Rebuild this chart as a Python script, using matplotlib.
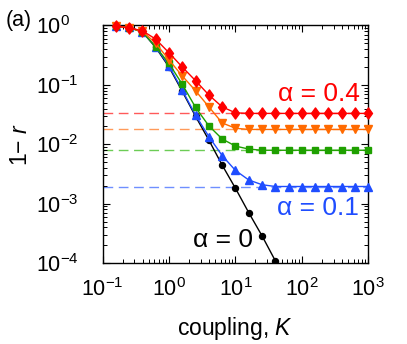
import numpy as np
import matplotlib
matplotlib.use("Agg")
import matplotlib.pyplot as plt
from matplotlib.path import Path

plt.rcParams['font.family'] = ['Liberation Sans', 'DejaVu Sans']
plt.rcParams['mathtext.fontset'] = 'custom'
plt.rcParams['mathtext.rm'] = 'Liberation Sans'
plt.rcParams['mathtext.it'] = 'Liberation Sans:italic'
plt.rcParams['mathtext.sf'] = 'Liberation Sans'

# coupling values (log10 K)
logK = [-0.8, -0.6, -0.4, -0.2, 0.0, 0.2, 0.4, 0.6, 0.8, 1.0, 1.2, 1.4, 1.6,
        1.8, 2.0, 2.2, 2.4, 2.6, 2.8, 3.0]

# log10(1 - r) for each alpha
log_a04 = [-0.01, -0.04, -0.09, -0.23, -0.46, -0.70, -0.93, -1.17, -1.37, -1.47,
           -1.48, -1.48, -1.48, -1.48, -1.48, -1.48, -1.48, -1.48, -1.48, -1.48]
log_a03 = [-0.01, -0.04, -0.10, -0.30, -0.58, -0.85, -1.10, -1.37, -1.64, -1.73,
           -1.75, -1.75, -1.75, -1.75, -1.75, -1.75, -1.75, -1.75, -1.75, -1.75]
log_a02 = [-0.01, -0.04, -0.11, -0.36, -0.64, -0.99, -1.38, -1.69, -1.91, -2.03,
           -2.08, -2.10, -2.10, -2.10, -2.10, -2.10, -2.10, -2.10, -2.10, -2.10]
log_a01 = [-0.01, -0.03, -0.11, -0.36, -0.68, -1.09, -1.51, -1.87, -2.19, -2.44,
           -2.60, -2.68, -2.71, -2.71, -2.71, -2.71, -2.71, -2.71, -2.71, -2.71]
logK_a0 = [-0.8, -0.6, -0.4, -0.2, 0.0, 0.2, 0.4, 0.6, 0.8, 1.0, 1.2, 1.4, 1.6, 1.8]
log_a0 = [-0.01, -0.03, -0.11, -0.37, -0.70, -1.11, -1.53, -1.93, -2.35, -2.74,
          -3.15, -3.54, -3.96, -4.36]

# asymptotic levels (dashed)
log_lim = [-1.48, -1.75, -2.10, -2.71]

colors = ['#ff0000', '#ff6a00', '#1fa000', '#1f4dff']
dash_colors = ['#ff5a5a', '#ff9a5a', '#6ccc55', '#6f8fff']
diamond = Path([(0, 1), (0.72, 0), (0, -1), (-0.72, 0), (0, 1)],
               [Path.MOVETO, Path.LINETO, Path.LINETO, Path.LINETO, Path.CLOSEPOLY])
markers = [diamond, 'v', 's', '^']
msizes = [8, 6.2, 4.8, 6.2]

fig = plt.figure(figsize=(4.07, 3.44), dpi=100)
ax = fig.add_axes([0.252, 0.235, 0.653, 0.691])

K = 10.0 ** np.array(logK)
for lv, dc in zip(log_lim, dash_colors):
    ax.plot([1e-1, 1e3], [10 ** lv, 10 ** lv], ls=(0, (7, 4)), color=dc, lw=1.0, zorder=1)

ax.plot(10.0 ** np.array(logK_a0), 10.0 ** np.array(log_a0), color='black',
        marker='o', ms=4.3, lw=1.0, zorder=2)

series = [log_a04, log_a03, log_a02, log_a01]
zs = [7, 6, 5, 4]
for s, c, m, ms, z in zip(series, colors, markers, msizes, zs):
    ax.plot(K, 10.0 ** np.array(s), color=c, marker=m, ms=ms, lw=1.0,
            mec=c, mfc=c, zorder=z, clip_on=False)

ax.set_xscale('log')
ax.set_yscale('log')
ax.set_xlim(1e-1, 1e3)
ax.set_ylim(1e-4, 1e0)
ax.set_xticks([1e-1, 1e0, 1e1, 1e2, 1e3])
ax.set_yticks([1e-4, 1e-3, 1e-2, 1e-1, 1e0])
ax.tick_params(which='both', direction='in', top=True, right=True, labelsize=15.5)
ax.tick_params(which='major', length=5, width=0.8)
ax.tick_params(which='minor', length=3, width=0.7)
ax.tick_params(axis='x', pad=11)
ax.tick_params(axis='y', pad=48)
for lab in ax.get_yticklabels():
    lab.set_horizontalalignment('left')
for sp in ax.spines.values():
    sp.set_linewidth(1.0)

ax.set_xlabel('coupling, $K$', fontsize=16.5, labelpad=10)
ax.set_ylabel('1$-$ $r$', fontsize=16.5, labelpad=3)

ax.text(0.968, 0.683, 'α = 0.4', color=colors[0], fontsize=19,
        transform=ax.transAxes, ha='right', va='baseline')
ax.text(0.963, 0.202, 'α = 0.1', color=colors[3], fontsize=19,
        transform=ax.transAxes, ha='right', va='baseline')
ax.text(0.566, 0.069, 'α = 0', color='black', fontsize=19,
        transform=ax.transAxes, ha='right', va='baseline')
fig.text(0.015, 0.94, '(a)', fontsize=15.5, ha='left', va='center')

fig.savefig('out.png', dpi=100)
